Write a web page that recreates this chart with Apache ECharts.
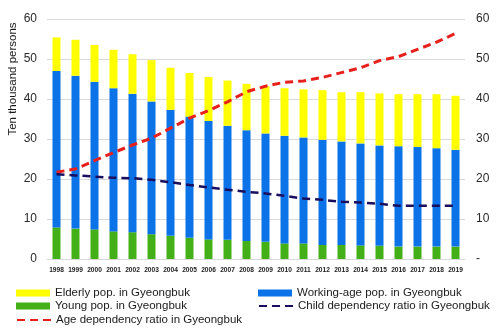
<!DOCTYPE html>
<html>
<head>
<meta charset="utf-8">
<script src="https://cdn.jsdelivr.net/npm/echarts@6/dist/echarts.min.js"></script>
<style>
  html, body { margin: 0; padding: 0; background: #ffffff; }
  #chart { width: 500px; height: 334px; }
</style>
</head>
<body>
<div id="chart"></div>
<script>
// Population by age group in Gyeongbuk (ten thousand persons) and dependency ratios
const years = ['1998','1999','2000','2001','2002','2003','2004','2005','2006','2007','2008',
               '2009','2010','2011','2012','2013','2014','2015','2016','2017','2018','2019'];

const youngPop   = [7.9, 7.6, 7.4, 6.9, 6.7, 6.2, 5.8, 5.3, 4.9, 4.8, 4.5,
                    4.3, 3.9, 3.9, 3.5, 3.5, 3.4, 3.3, 3.1, 3.1, 3.1, 3.1];
const workingPop = [39.1, 38.2, 36.9, 35.8, 34.6, 33.2, 31.5, 30.3, 29.6, 28.5, 27.7,
                    27.1, 26.9, 26.5, 26.3, 25.9, 25.5, 25.1, 25.1, 24.9, 24.6, 24.2];
const elderlyPop = [8.4, 9.0, 9.2, 9.6, 9.9, 10.3, 10.5, 10.9, 11.0, 11.3, 11.6,
                    11.8, 11.9, 12.0, 12.4, 12.3, 12.8, 13.0, 13.0, 13.2, 13.5, 13.5];

const ageDependency   = [21.7, 22.5, 24.6, 26.6, 28.5, 30.2, 32.7, 35.2, 37.1, 39.3, 41.8,
                         43.2, 44.2, 44.5, 45.4, 46.6, 47.8, 49.6, 50.6, 52.4, 54.2, 56.4];
const childDependency = [21.2, 20.9, 20.6, 20.3, 20.2, 19.8, 19.2, 18.5, 17.9, 17.3, 16.8,
                         16.4, 15.8, 15.1, 14.8, 14.3, 14.1, 13.8, 13.3, 13.3, 13.3, 13.3];

const yTicks = [0, 10, 20, 30, 40, 50, 60];

const textFont = 'Liberation Sans';
const chart = echarts.init(document.getElementById('chart'), null, { renderer: 'canvas' });

const legendText = { fontSize: 11.5, color: '#1a1a1a', fontFamily: textFont };

// one legend block per entry so each sits in its own row/column
function legendEntry(name, left, top, isLine) {
  const entry = {
    left: left, top: top, orient: 'horizontal',
    itemWidth: 34, itemHeight: 7, itemGap: 0, padding: 0,
    textStyle: legendText,
    data: [isLine ? name : { name: name, icon: 'rect' }]
  };
  if (isLine) entry.itemStyle = { opacity: 0 };
  return entry;
}

chart.setOption({
  animation: false,
  backgroundColor: '#ffffff',
  grid: { left: 47, right: 35, top: 19, bottom: 75, containLabel: false, outerBoundsMode: 'none' },
  legend: [
    legendEntry('Elderly pop. in Gyeongbuk', 16, 287, false),
    legendEntry('Young pop. in Gyeongbuk', 16, 300, false),
    legendEntry('Age dependency ratio in Gyeongbuk', 16, 314, true),
    legendEntry('Working-age pop. in Gyeongbuk', 258, 287, false),
    legendEntry('Child dependency ratio in Gyeongbuk', 258, 300, true)
  ],
  graphic: [
    {
      type: 'text', x: 13, y: 79, rotation: Math.PI / 2,
      style: {
        text: 'Ten thousand persons', fontSize: 11.5, fill: '#1a1a1a', fontFamily: textFont,
        align: 'center', verticalAlign: 'middle'
      }
    }
  ],
  xAxis: {
    type: 'category',
    data: years,
    axisLine: { show: true, lineStyle: { color: '#d9d9d9', width: 1 } },
    axisTick: { show: false },
    axisLabel: {
      interval: 0, fontSize: 6.6, color: '#222222', fontFamily: textFont,
      fontWeight: 'bold', margin: 8, hideOverlap: false
    }
  },
  yAxis: [
    {
      type: 'value', min: yTicks[0], max: yTicks[yTicks.length - 1], interval: 10,
      axisLine: { show: false },
      axisTick: { show: false },
      axisLabel: { fontSize: 12, color: '#2a2a2a', fontFamily: textFont, margin: 10 },
      splitLine: { lineStyle: { color: '#d9d9d9', width: 1 } }
    },
    {
      type: 'value', min: yTicks[0], max: yTicks[yTicks.length - 1], interval: 10,
      position: 'right',
      axisLine: { show: false },
      axisTick: { show: false },
      axisLabel: {
        fontSize: 12, color: '#2a2a2a', fontFamily: textFont, margin: 11,
        formatter: v => (v === 0 ? '-' : String(v))
      },
      splitLine: { show: false }
    }
  ],
  series: [
    {
      name: 'Young pop. in Gyeongbuk', type: 'bar', stack: 'pop', barWidth: 8,
      itemStyle: { color: '#43B017' }, data: youngPop
    },
    {
      name: 'Working-age pop. in Gyeongbuk', type: 'bar', stack: 'pop', barWidth: 8,
      itemStyle: { color: '#0B72E8' }, data: workingPop
    },
    {
      name: 'Elderly pop. in Gyeongbuk', type: 'bar', stack: 'pop', barWidth: 8,
      itemStyle: { color: '#FFFF00' }, data: elderlyPop
    },
    {
      name: 'Age dependency ratio in Gyeongbuk', type: 'line', yAxisIndex: 1,
      symbol: 'none', smooth: false, z: 5,
      lineStyle: { color: '#E8201C', width: 3, type: [8, 5] },
      itemStyle: { color: '#E8201C' },
      data: ageDependency
    },
    {
      name: 'Child dependency ratio in Gyeongbuk', type: 'line', yAxisIndex: 1,
      symbol: 'none', smooth: false, z: 5,
      lineStyle: { color: '#1A0F5E', width: 2.5, type: [8, 5] },
      itemStyle: { color: '#1A0F5E' },
      data: childDependency
    }
  ]
});
</script>
</body>
</html>
